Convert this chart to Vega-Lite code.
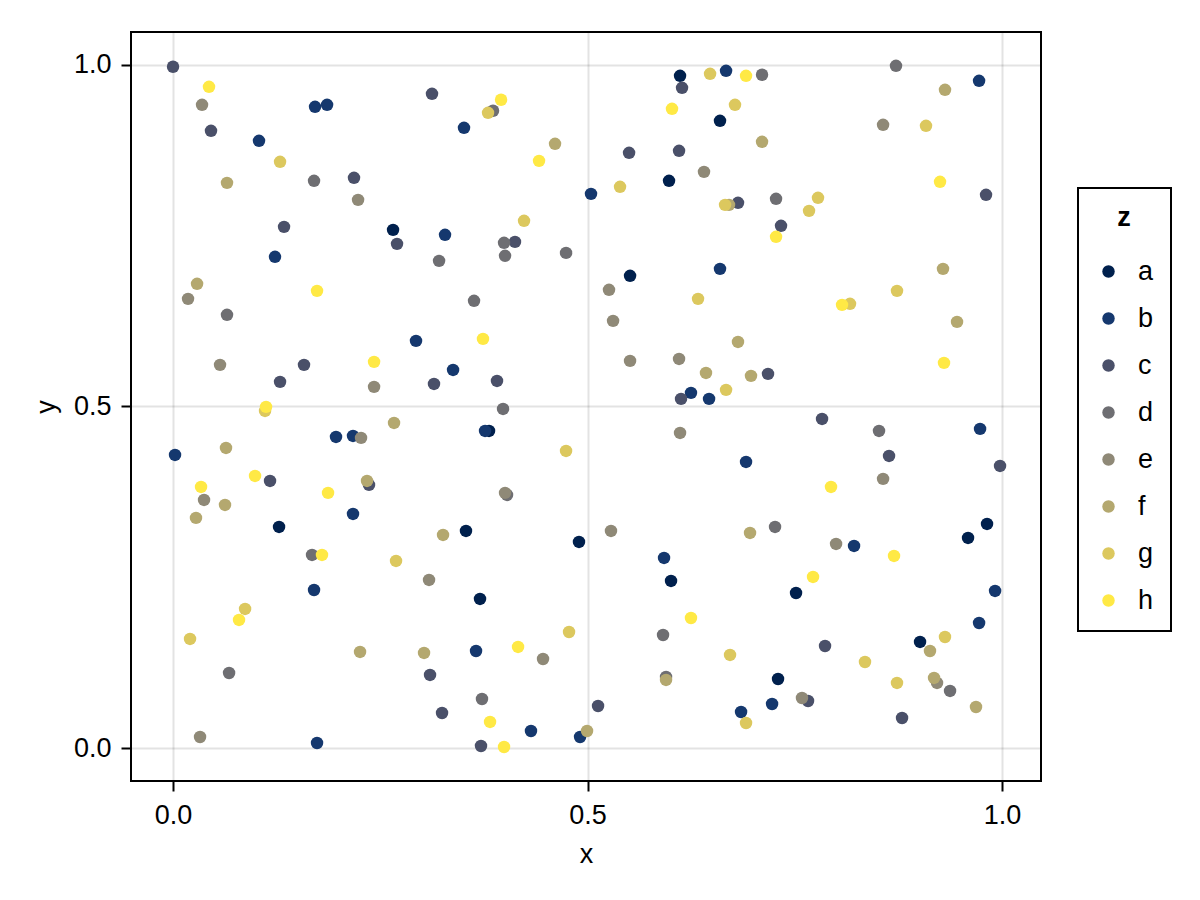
{
  "$schema": "https://vega.github.io/schema/vega-lite/v6.json",
  "width": 910,
  "height": 749,
  "autosize": {"type": "none"},
  "padding": {"left": 131, "top": 32, "right": 159, "bottom": 119},
  "background": "white",
  "config": {
    "font": "Liberation Sans",
    "view": {"stroke": "black", "strokeWidth": 2},
    "axis": {
      "domain": false,
      "grid": true,
      "gridColor": "#000000",
      "gridOpacity": 0.11,
      "gridWidth": 2,
      "tickColor": "black",
      "tickSize": 10,
      "tickWidth": 2,
      "labelFontSize": 27,
      "labelColor": "black",
      "titleFontSize": 27,
      "titleFontWeight": "normal",
      "titleColor": "black"
    },
    "legend": {
      "orient": "none",
      "legendX": 947,
      "legendY": 156,
      "strokeColor": "black",
      "strokeWidth": 2,
      "padding": 17,
      "titleFontSize": 27,
      "titleFontWeight": "bold",
      "titleAnchor": "middle",
      "titleColor": "black",
      "titlePadding": 26,
      "labelFontSize": 27,
      "labelColor": "black",
      "symbolSize": 155,
      "symbolType": "circle",
      "symbolStrokeWidth": 0,
      "rowPadding": 19,
      "labelOffset": 16,
      "symbolOffset": 0
    }
  },
  "data": {"values": [
    {"x":0.6116,"y":0.9839,"z":"a"},{"x":0.6598,"y":0.9180,"z":"a"},{"x":0.5983,"y":0.8302,"z":"a"},{"x":0.2654,"y":0.7584,"z":"a"},
    {"x":0.5513,"y":0.6911,"z":"a"},{"x":0.3812,"y":0.4641,"z":"a"},{"x":0.1279,"y":0.3236,"z":"a"},{"x":0.3534,"y":0.3177,"z":"a"},
    {"x":0.9819,"y":0.3280,"z":"a"},{"x":0.9590,"y":0.3075,"z":"a"},{"x":0.4897,"y":0.3016,"z":"a"},{"x":0.6007,"y":0.2445,"z":"a"},
    {"x":0.3703,"y":0.2182,"z":"a"},{"x":0.7515,"y":0.2269,"z":"a"},{"x":0.9011,"y":0.1552,"z":"a"},{"x":0.7298,"y":0.1010,"z":"a"},
    {"x":0.1037,"y":0.8887,"z":"b"},{"x":0.1713,"y":0.9385,"z":"b"},{"x":0.1858,"y":0.9414,"z":"b"},{"x":0.3510,"y":0.9078,"z":"b"},
    {"x":0.6671,"y":0.9912,"z":"b"},{"x":0.9723,"y":0.9766,"z":"b"},{"x":0.5042,"y":0.8111,"z":"b"},{"x":0.1230,"y":0.7189,"z":"b"},
    {"x":0.3281,"y":0.7511,"z":"b"},{"x":0.6598,"y":0.7013,"z":"b"},{"x":0.2931,"y":0.5959,"z":"b"},{"x":0.3378,"y":0.5534,"z":"b"},
    {"x":0.6248,"y":0.5198,"z":"b"},{"x":0.6466,"y":0.5110,"z":"b"},{"x":0.3764,"y":0.4641,"z":"b"},{"x":0.1966,"y":0.4553,"z":"b"},
    {"x":0.2171,"y":0.4568,"z":"b"},{"x":0.0024,"y":0.4290,"z":"b"},{"x":0.6912,"y":0.4187,"z":"b"},{"x":0.9735,"y":0.4671,"z":"b"},
    {"x":0.2171,"y":0.3426,"z":"b"},{"x":0.1701,"y":0.2313,"z":"b"},{"x":0.1737,"y":0.0073,"z":"b"},{"x":0.5923,"y":0.2782,"z":"b"},
    {"x":0.3655,"y":0.1420,"z":"b"},{"x":0.4318,"y":0.0249,"z":"b"},{"x":0.4910,"y":0.0161,"z":"b"},{"x":0.6852,"y":0.0527,"z":"b"},
    {"x":0.8215,"y":0.2958,"z":"b"},{"x":0.9916,"y":0.2299,"z":"b"},{"x":0.9723,"y":0.1830,"z":"b"},{"x":0.7226,"y":0.0644,"z":"b"},
    {"x":0.0000,"y":0.9971,"z":"c"},{"x":0.0458,"y":0.9034,"z":"c"},{"x":0.3124,"y":0.9575,"z":"c"},{"x":0.2183,"y":0.8346,"z":"c"},
    {"x":0.1339,"y":0.7628,"z":"c"},{"x":0.2702,"y":0.7379,"z":"c"},{"x":0.4125,"y":0.7408,"z":"c"},{"x":0.6140,"y":0.9663,"z":"c"},
    {"x":0.5501,"y":0.8712,"z":"c"},{"x":0.6104,"y":0.8741,"z":"c"},{"x":0.6815,"y":0.7980,"z":"c"},{"x":0.7334,"y":0.7643,"z":"c"},
    {"x":0.9807,"y":0.8097,"z":"c"},{"x":0.1580,"y":0.5608,"z":"c"},{"x":0.1291,"y":0.5359,"z":"c"},{"x":0.3148,"y":0.5329,"z":"c"},
    {"x":0.3908,"y":0.5373,"z":"c"},{"x":0.6128,"y":0.5110,"z":"c"},{"x":0.7177,"y":0.5476,"z":"c"},{"x":0.1170,"y":0.3909,"z":"c"},
    {"x":0.2364,"y":0.3851,"z":"c"},{"x":0.7829,"y":0.4817,"z":"c"},{"x":0.8637,"y":0.4275,"z":"c"},{"x":0.9976,"y":0.4129,"z":"c"},
    {"x":0.3100,"y":0.1069,"z":"c"},{"x":0.3245,"y":0.0512,"z":"c"},{"x":0.5127,"y":0.0615,"z":"c"},{"x":0.3715,"y":0.0029,"z":"c"},
    {"x":0.7865,"y":0.1493,"z":"c"},{"x":0.7660,"y":0.0688,"z":"c"},{"x":0.8794,"y":0.0439,"z":"c"},
    {"x":0.1701,"y":0.8302,"z":"d"},{"x":0.3860,"y":0.9327,"z":"d"},{"x":0.3993,"y":0.7394,"z":"d"},{"x":0.4005,"y":0.7204,"z":"d"},
    {"x":0.4741,"y":0.7247,"z":"d"},{"x":0.3209,"y":0.7130,"z":"d"},{"x":0.7105,"y":0.9854,"z":"d"},{"x":0.8721,"y":0.9985,"z":"d"},
    {"x":0.7274,"y":0.8038,"z":"d"},{"x":0.0651,"y":0.6340,"z":"d"},{"x":0.3631,"y":0.6545,"z":"d"},{"x":0.3981,"y":0.4963,"z":"d"},
    {"x":0.4029,"y":0.3704,"z":"d"},{"x":0.8516,"y":0.4641,"z":"d"},{"x":0.7262,"y":0.3236,"z":"d"},{"x":0.1677,"y":0.2826,"z":"d"},
    {"x":0.0676,"y":0.1098,"z":"d"},{"x":0.5911,"y":0.1654,"z":"d"},{"x":0.5947,"y":0.1040,"z":"d"},{"x":0.3727,"y":0.0717,"z":"d"},
    {"x":0.9373,"y":0.0835,"z":"d"},
    {"x":0.0350,"y":0.9414,"z":"e"},{"x":0.2232,"y":0.8023,"z":"e"},{"x":0.6405,"y":0.8433,"z":"e"},{"x":0.8565,"y":0.9122,"z":"e"},
    {"x":0.0181,"y":0.6574,"z":"e"},{"x":0.0567,"y":0.5608,"z":"e"},{"x":0.2425,"y":0.5286,"z":"e"},{"x":0.2268,"y":0.4539,"z":"e"},
    {"x":0.0374,"y":0.3631,"z":"e"},{"x":0.5259,"y":0.6706,"z":"e"},{"x":0.5308,"y":0.6252,"z":"e"},{"x":0.5513,"y":0.5666,"z":"e"},
    {"x":0.6104,"y":0.5695,"z":"e"},{"x":0.6116,"y":0.4612,"z":"e"},{"x":0.4005,"y":0.3734,"z":"e"},{"x":0.5283,"y":0.3177,"z":"e"},
    {"x":0.8565,"y":0.3939,"z":"e"},{"x":0.3088,"y":0.2460,"z":"e"},{"x":0.0326,"y":0.0161,"z":"e"},{"x":0.4463,"y":0.1303,"z":"e"},
    {"x":0.7998,"y":0.2987,"z":"e"},{"x":0.9216,"y":0.0952,"z":"e"},{"x":0.7587,"y":0.0732,"z":"e"},
    {"x":0.0651,"y":0.8272,"z":"f"},{"x":0.4608,"y":0.8843,"z":"f"},{"x":0.6707,"y":0.7950,"z":"f"},{"x":0.7105,"y":0.8873,"z":"f"},
    {"x":0.9312,"y":0.9634,"z":"f"},{"x":0.9288,"y":0.7013,"z":"f"},{"x":0.0290,"y":0.6794,"z":"f"},{"x":0.2666,"y":0.4758,"z":"f"},
    {"x":0.0639,"y":0.4392,"z":"f"},{"x":0.0627,"y":0.3558,"z":"f"},{"x":0.0277,"y":0.3368,"z":"f"},{"x":0.2340,"y":0.3909,"z":"f"},
    {"x":0.6815,"y":0.5944,"z":"f"},{"x":0.6429,"y":0.5490,"z":"f"},{"x":0.3257,"y":0.3119,"z":"f"},{"x":0.9457,"y":0.6237,"z":"f"},
    {"x":0.6972,"y":0.5447,"z":"f"},{"x":0.6960,"y":0.3148,"z":"f"},{"x":0.2256,"y":0.1406,"z":"f"},{"x":0.3028,"y":0.1391,"z":"f"},
    {"x":0.5947,"y":0.0996,"z":"f"},{"x":0.4994,"y":0.0249,"z":"f"},{"x":0.9131,"y":0.1420,"z":"f"},{"x":0.9180,"y":0.1025,"z":"f"},
    {"x":0.9686,"y":0.0600,"z":"f"},
    {"x":0.1291,"y":0.8580,"z":"g"},{"x":0.3800,"y":0.9297,"z":"g"},{"x":0.4234,"y":0.7716,"z":"g"},{"x":0.5392,"y":0.8214,"z":"g"},
    {"x":0.6478,"y":0.9868,"z":"g"},{"x":0.6779,"y":0.9414,"z":"g"},{"x":0.6659,"y":0.7950,"z":"g"},{"x":0.9083,"y":0.9107,"z":"g"},
    {"x":0.7780,"y":0.8053,"z":"g"},{"x":0.7672,"y":0.7862,"z":"g"},{"x":0.1110,"y":0.4934,"z":"g"},{"x":0.6333,"y":0.6574,"z":"g"},
    {"x":0.6671,"y":0.5242,"z":"g"},{"x":0.4741,"y":0.4348,"z":"g"},{"x":0.8733,"y":0.6691,"z":"g"},{"x":0.8166,"y":0.6501,"z":"g"},
    {"x":0.2690,"y":0.2738,"z":"g"},{"x":0.0869,"y":0.2035,"z":"g"},{"x":0.0205,"y":0.1596,"z":"g"},{"x":0.4777,"y":0.1698,"z":"g"},
    {"x":0.6719,"y":0.1362,"z":"g"},{"x":0.6912,"y":0.0366,"z":"g"},{"x":0.9312,"y":0.1625,"z":"g"},{"x":0.8347,"y":0.1259,"z":"g"},
    {"x":0.8733,"y":0.0952,"z":"g"},
    {"x":0.0434,"y":0.9678,"z":"h"},{"x":0.3957,"y":0.9488,"z":"h"},{"x":0.4415,"y":0.8594,"z":"h"},{"x":0.6019,"y":0.9356,"z":"h"},
    {"x":0.6912,"y":0.9839,"z":"h"},{"x":0.9252,"y":0.8287,"z":"h"},{"x":0.7274,"y":0.7482,"z":"h"},{"x":0.1737,"y":0.6691,"z":"h"},
    {"x":0.2425,"y":0.5652,"z":"h"},{"x":0.1122,"y":0.4993,"z":"h"},{"x":0.0989,"y":0.3982,"z":"h"},{"x":0.0338,"y":0.3821,"z":"h"},
    {"x":0.1870,"y":0.3734,"z":"h"},{"x":0.3739,"y":0.5988,"z":"h"},{"x":0.8070,"y":0.6486,"z":"h"},{"x":0.9300,"y":0.5637,"z":"h"},
    {"x":0.7937,"y":0.3821,"z":"h"},{"x":0.1797,"y":0.2826,"z":"h"},{"x":0.0796,"y":0.1874,"z":"h"},{"x":0.6248,"y":0.1903,"z":"h"},
    {"x":0.4162,"y":0.1479,"z":"h"},{"x":0.3824,"y":0.0381,"z":"h"},{"x":0.3993,"y":0.0015,"z":"h"},{"x":0.8697,"y":0.2811,"z":"h"},
    {"x":0.7720,"y":0.2504,"z":"h"}
  ]},
  "mark": {"type": "circle", "size": 155, "opacity": 1},
  "encoding": {
    "x": {"field": "x", "type": "quantitative", "title": "x",
      "scale": {"domain": [-0.0507, 1.047], "nice": false, "zero": false},
      "axis": {"values": [0, 0.5, 1], "format": ".1f", "labelPadding": 11, "titlePadding": 13}},
    "y": {"field": "y", "type": "quantitative", "title": "y",
      "scale": {"domain": [-0.0483, 1.048], "nice": false, "zero": false},
      "axis": {"values": [0, 0.5, 1], "format": ".1f", "labelPadding": 10, "titlePadding": 13}},
    "color": {"field": "z", "type": "nominal", "title": "z",
      "scale": {"domain": ["a","b","c","d","e","f","g","h"],
        "range": ["#00204D","#15386E","#4A5069","#6E6E72","#8F8977","#B4A86F","#DCC85E","#FFE945"]}}
  }
}
